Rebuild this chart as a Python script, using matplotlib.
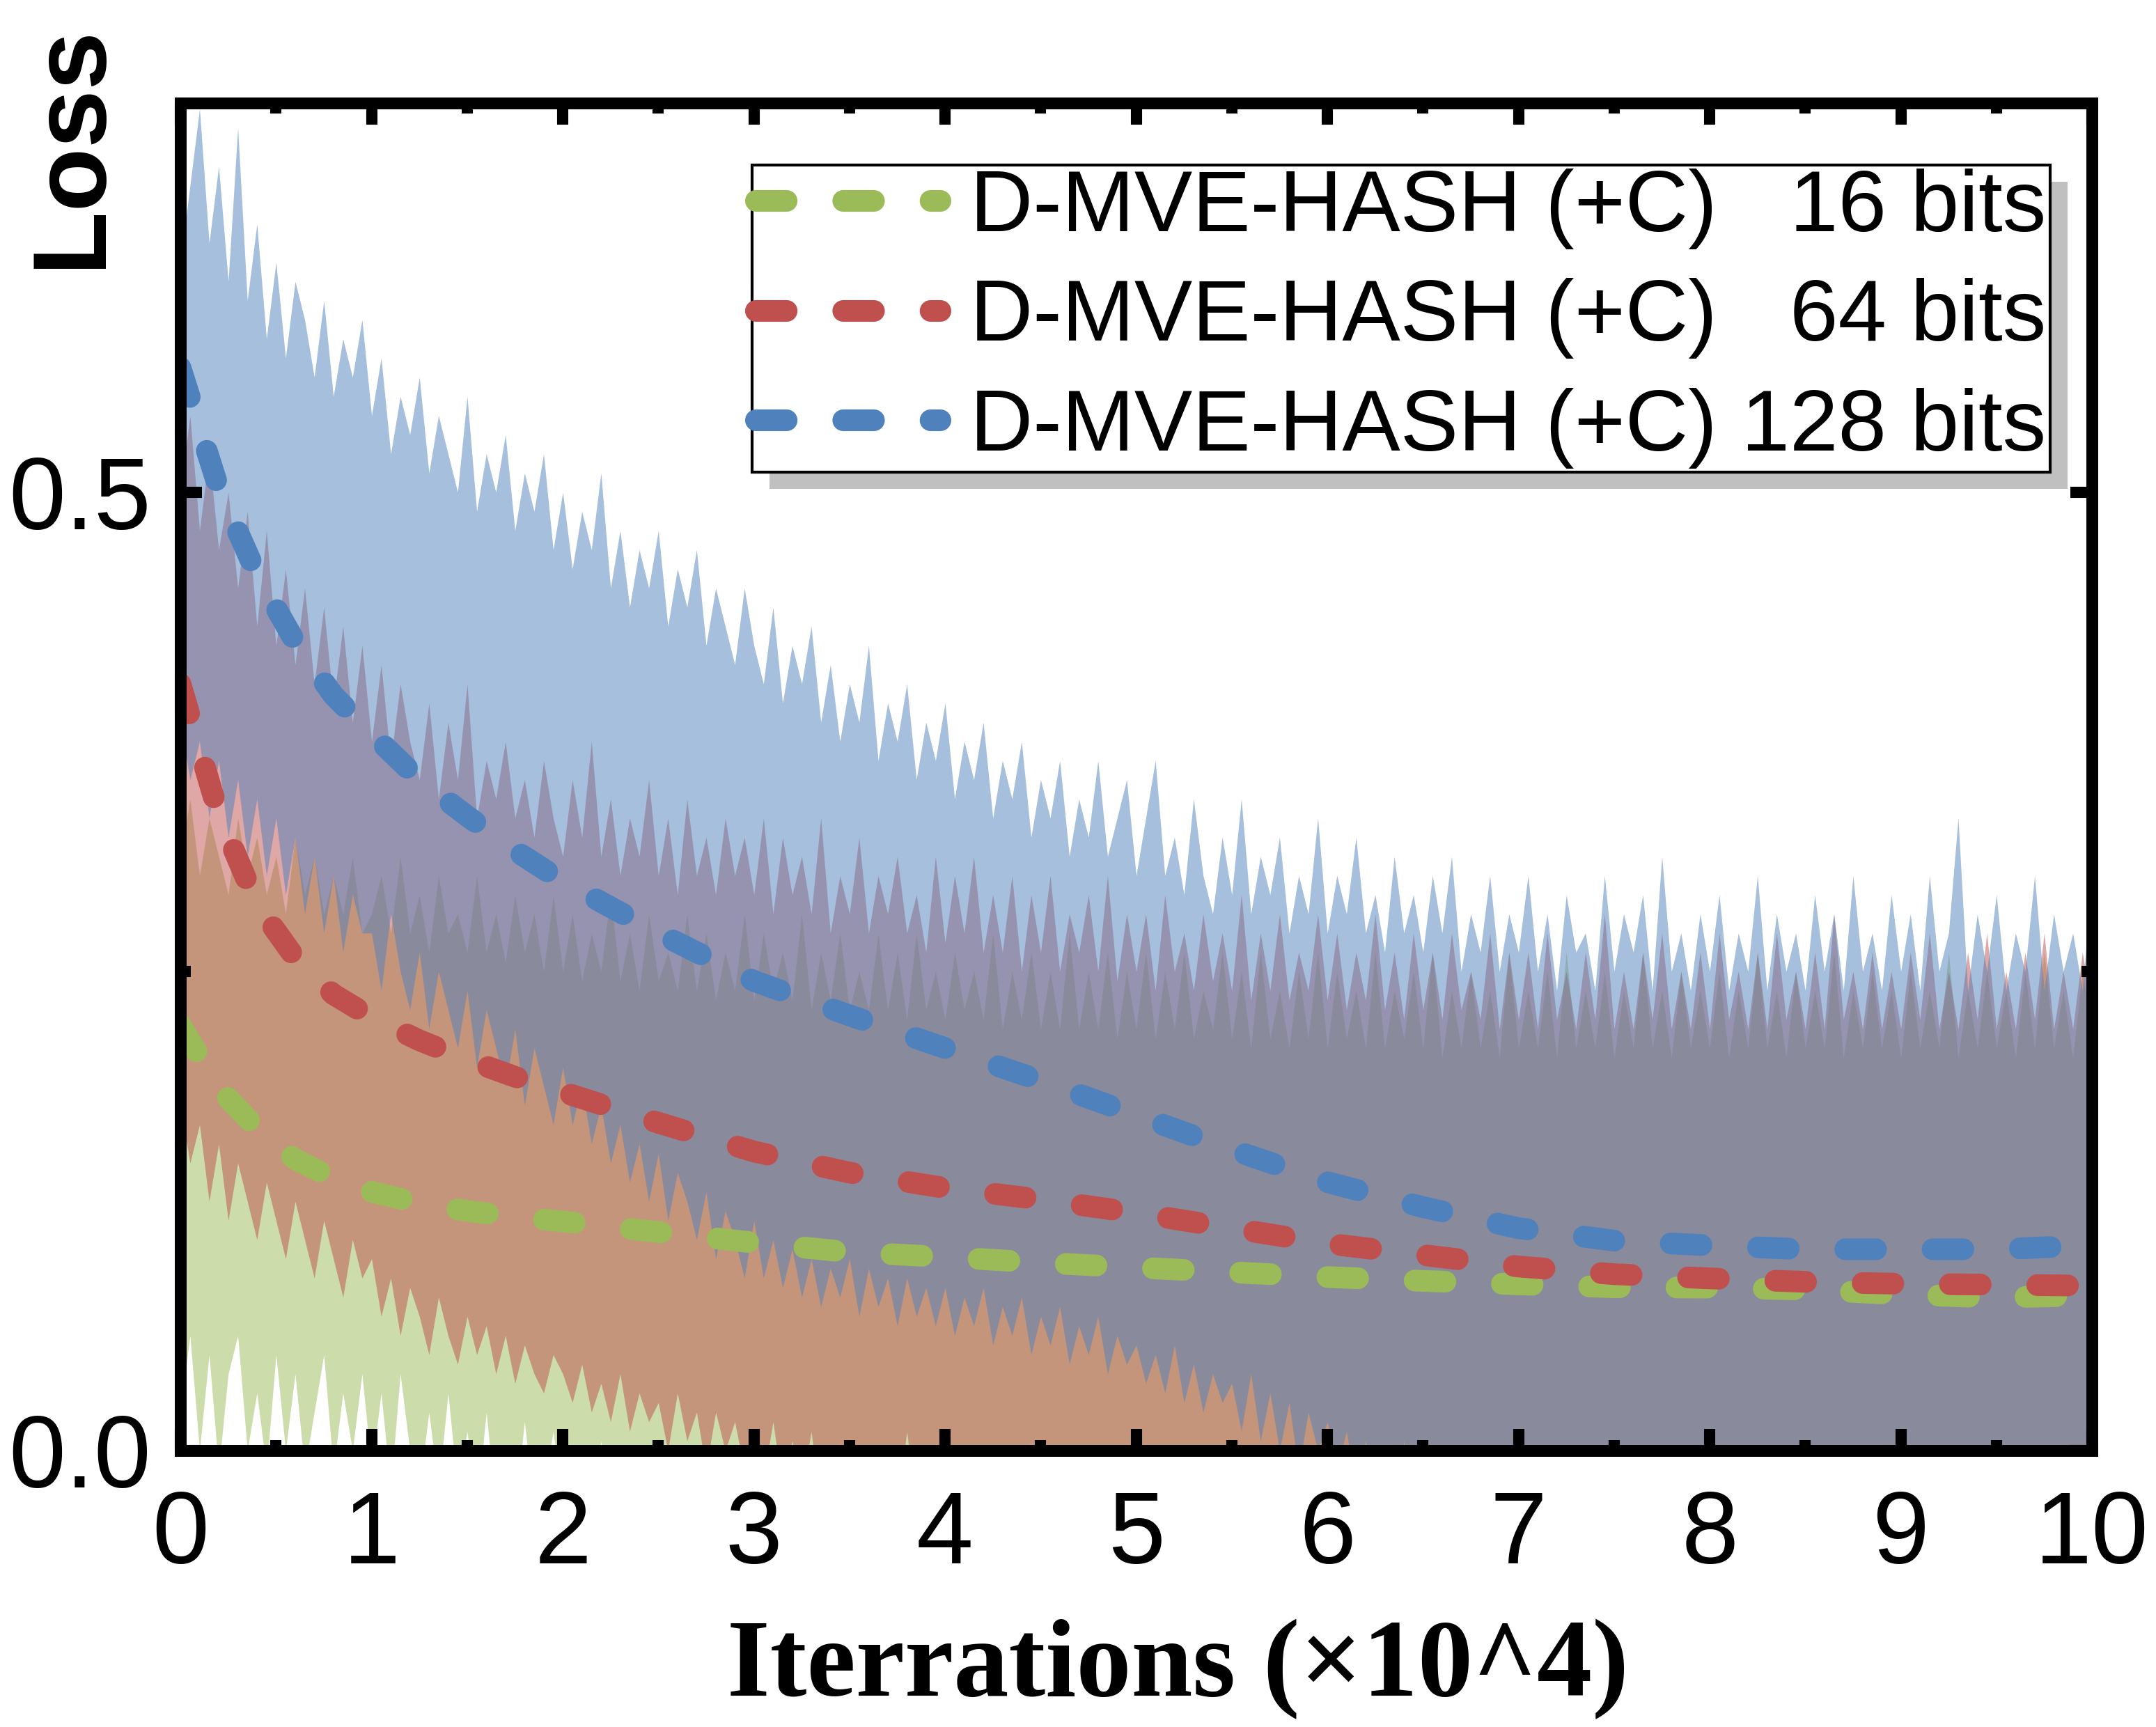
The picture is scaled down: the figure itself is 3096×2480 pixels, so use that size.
import numpy as np
import matplotlib
matplotlib.use('Agg')
import matplotlib.pyplot as plt
from matplotlib.patches import Rectangle
from matplotlib.transforms import IdentityTransform
from matplotlib.ticker import MultipleLocator, FormatStrFormatter

plt.rcParams['font.family'] = ['Liberation Sans', 'DejaVu Sans']

# smoothed loss curves (dashed)
mean_x = [0, 0.2, 0.4, 0.6, 0.8, 1.0, 1.25, 1.5, 1.75, 2.0, 2.5, 3.0, 3.5, 4.0,
          4.5, 5.0, 5.5, 6.0, 6.5, 7.0, 7.5, 8.0, 8.5, 9.0, 9.5, 10.0]
green_mean = [0.222, 0.189, 0.168, 0.152, 0.142, 0.135, 0.129, 0.125, 0.122, 0.1195,
              0.114, 0.1085, 0.1035, 0.101, 0.098, 0.0955, 0.093, 0.0905, 0.0885,
              0.0867, 0.0852, 0.085, 0.084, 0.0815, 0.0798, 0.081]
red_mean = [0.400, 0.332, 0.285, 0.257, 0.238, 0.226, 0.214, 0.204, 0.195, 0.187,
            0.171, 0.156, 0.145, 0.137, 0.131, 0.124, 0.116, 0.108, 0.102, 0.096,
            0.092, 0.0898, 0.088, 0.087, 0.0865, 0.086]
blue_mean = [0.565, 0.502, 0.457, 0.422, 0.394, 0.374, 0.350, 0.331, 0.313, 0.297,
             0.270, 0.245, 0.227, 0.210, 0.193, 0.175, 0.157, 0.140, 0.127, 0.116,
             0.1095, 0.107, 0.105, 0.105, 0.105, 0.107]

# raw loss spread, sampled every 0.05 (x10^4 iterations), one row per unit
band_x = np.round(np.arange(0, 10.001, 0.05), 2)
green_hi = [0.31, 0.34, 0.30, 0.33, 0.31, 0.29, 0.33, 0.30, 0.32, 0.29, 0.31, 0.28, 0.32, 0.29, 0.31, 0.28, 0.30, 0.28, 0.31, 0.27,
            0.28, 0.30, 0.27, 0.31, 0.27, 0.29, 0.26, 0.30, 0.27, 0.28, 0.26, 0.30, 0.26, 0.28, 0.255, 0.29, 0.26, 0.28, 0.25, 0.29,
            0.25, 0.28, 0.245, 0.27, 0.25, 0.29, 0.245, 0.27, 0.24, 0.28, 0.245, 0.26, 0.24, 0.28, 0.24, 0.27, 0.235, 0.26, 0.24, 0.28,
            0.235, 0.27, 0.24, 0.26, 0.235, 0.28, 0.23, 0.26, 0.235, 0.27, 0.23, 0.25, 0.23, 0.27, 0.23, 0.26, 0.225, 0.27, 0.23, 0.25,
            0.225, 0.26, 0.23, 0.25, 0.225, 0.27, 0.22, 0.25, 0.225, 0.26, 0.22, 0.25, 0.22, 0.27, 0.22, 0.25, 0.22, 0.26, 0.215, 0.25,
            0.22, 0.26, 0.215, 0.25, 0.22, 0.26, 0.215, 0.24, 0.22, 0.26, 0.215, 0.25, 0.21, 0.26, 0.215, 0.24, 0.21, 0.25, 0.215, 0.26,
            0.21, 0.25, 0.215, 0.24, 0.21, 0.26, 0.21, 0.24, 0.215, 0.25, 0.21, 0.26, 0.205, 0.24, 0.21, 0.25, 0.21, 0.24, 0.205, 0.26,
            0.21, 0.24, 0.21, 0.25, 0.205, 0.26, 0.21, 0.24, 0.21, 0.25, 0.205, 0.24, 0.21, 0.26, 0.21, 0.24, 0.205, 0.25, 0.21, 0.24,
            0.21, 0.25, 0.205, 0.24, 0.21, 0.26, 0.21, 0.24, 0.205, 0.25, 0.21, 0.24, 0.21, 0.26, 0.205, 0.24, 0.21, 0.25, 0.21, 0.24,
            0.205, 0.25, 0.21, 0.24, 0.21, 0.26, 0.205, 0.24, 0.21, 0.25, 0.21, 0.24, 0.205, 0.25, 0.21, 0.26, 0.21, 0.24, 0.205, 0.25,
            0.22]
green_lo = [0.02, 0.06, 0.00, 0.05, -0.01, 0.04, 0.06, 0.00, 0.03, -0.01, 0.05, 0.00, 0.04, -0.01, 0.02, 0.05, -0.01, 0.03, 0.00, 0.04,
            -0.01, 0.03, -0.02, 0.04, 0.00, -0.02, 0.02, -0.02, 0.03, -0.02, 0.01, -0.03, 0.02, -0.03, 0.00, -0.03, 0.015, -0.03, -0.02, 0.01,
            -0.03, 0.00, -0.03, -0.04, 0.005, -0.04, -0.03, -0.05, -0.04, -0.05, -0.04, -0.05, -0.05, -0.04, -0.05, -0.05, -0.04, -0.05, -0.05, -0.04,
            -0.05, -0.04, -0.05, -0.05, -0.04, -0.05, -0.05, -0.04, -0.05, -0.05, -0.04, -0.05, -0.05, -0.04, -0.05, -0.05, -0.04, -0.05, -0.05, -0.04,
            -0.05, -0.04, -0.05, -0.05, -0.04, -0.05, -0.05, -0.04, -0.05, -0.05, -0.04, -0.05, -0.05, -0.04, -0.05, -0.05, -0.04, -0.05, -0.05, -0.04,
            -0.05, -0.04, -0.05, -0.05, -0.04, -0.05, -0.05, -0.04, -0.05, -0.05, -0.04, -0.05, -0.05, -0.04, -0.05, -0.05, -0.04, -0.05, -0.05, -0.04,
            -0.05, -0.04, -0.05, -0.05, -0.04, -0.05, -0.05, -0.04, -0.05, -0.05, -0.04, -0.05, -0.05, -0.04, -0.05, -0.05, -0.04, -0.05, -0.05, -0.04,
            -0.05, -0.04, -0.05, -0.05, -0.04, -0.05, -0.05, -0.04, -0.05, -0.05, -0.04, -0.05, -0.05, -0.04, -0.05, -0.05, -0.04, -0.05, -0.05, -0.04,
            -0.05, -0.04, -0.05, -0.05, -0.04, -0.05, -0.05, -0.04, -0.05, -0.05, -0.04, -0.05, -0.05, -0.04, -0.05, -0.05, -0.04, -0.05, -0.05, -0.04,
            -0.05, -0.04, -0.05, -0.05, -0.04, -0.05, -0.05, -0.04, -0.05, -0.05, -0.04, -0.05, -0.05, -0.04, -0.05, -0.05, -0.04, -0.05, -0.05, -0.04,
            -0.05]
red_hi = [0.50, 0.54, 0.48, 0.52, 0.47, 0.50, 0.45, 0.49, 0.43, 0.48, 0.42, 0.46, 0.41, 0.45, 0.40, 0.44, 0.39, 0.43, 0.38, 0.42,
          0.37, 0.41, 0.36, 0.40, 0.37, 0.35, 0.39, 0.34, 0.38, 0.35, 0.40, 0.33, 0.36, 0.34, 0.37, 0.33, 0.35, 0.32, 0.36, 0.33,
          0.31, 0.35, 0.32, 0.37, 0.31, 0.34, 0.30, 0.33, 0.31, 0.35, 0.30, 0.33, 0.29, 0.34, 0.30, 0.32, 0.29, 0.33, 0.30, 0.32,
          0.29, 0.33, 0.28, 0.32, 0.29, 0.31, 0.28, 0.33, 0.27, 0.30, 0.28, 0.32, 0.27, 0.30, 0.28, 0.31, 0.27, 0.29, 0.26, 0.31,
          0.265, 0.30, 0.27, 0.31, 0.26, 0.29, 0.26, 0.30, 0.25, 0.29, 0.26, 0.30, 0.25, 0.28, 0.26, 0.29, 0.25, 0.30, 0.245, 0.28,
          0.25, 0.28, 0.24, 0.29, 0.25, 0.27, 0.24, 0.28, 0.245, 0.27, 0.24, 0.29, 0.235, 0.27, 0.24, 0.28, 0.235, 0.26, 0.24, 0.28,
          0.235, 0.27, 0.23, 0.26, 0.235, 0.28, 0.23, 0.26, 0.225, 0.27, 0.23, 0.26, 0.225, 0.27, 0.23, 0.25, 0.225, 0.27, 0.22, 0.26,
          0.225, 0.26, 0.22, 0.27, 0.225, 0.25, 0.22, 0.26, 0.225, 0.28, 0.22, 0.25, 0.22, 0.26, 0.225, 0.27, 0.22, 0.25, 0.22, 0.26,
          0.22, 0.27, 0.225, 0.25, 0.22, 0.26, 0.22, 0.27, 0.225, 0.25, 0.22, 0.26, 0.22, 0.28, 0.225, 0.25, 0.22, 0.26, 0.22, 0.25,
          0.22, 0.26, 0.225, 0.27, 0.22, 0.25, 0.22, 0.26, 0.225, 0.27, 0.22, 0.25, 0.22, 0.26, 0.225, 0.27, 0.22, 0.25, 0.22, 0.26,
          0.23]
red_lo = [0.18, 0.15, 0.17, 0.13, 0.16, 0.12, 0.15, 0.13, 0.11, 0.14, 0.12, 0.10, 0.13, 0.11, 0.09, 0.12, 0.10, 0.08, 0.11, 0.09,
          0.10, 0.07, 0.09, 0.06, 0.085, 0.07, 0.05, 0.08, 0.06, 0.045, 0.07, 0.05, 0.065, 0.04, 0.06, 0.035, 0.055, 0.04, 0.03, 0.05,
          0.04, 0.025, 0.045, 0.02, 0.035, 0.015, 0.04, 0.01, 0.03, 0.015, 0.025, 0.00, 0.03, 0.005, 0.02, -0.01, 0.02, 0.00, 0.015, -0.01,
          0.01, -0.015, 0.015, -0.02, 0.005, -0.02, 0.01, -0.03, 0.00, -0.02, 0.005, -0.03, -0.01, -0.03, 0.00, -0.03, 0.01, -0.03, -0.01, -0.04,
          0.005, -0.03, -0.02, -0.04, -0.01, -0.04, -0.03, -0.05, -0.04, -0.05, -0.04, -0.05, -0.05, -0.04, -0.05, -0.05, -0.04, -0.05, -0.05, -0.04,
          -0.05, -0.04, -0.05, -0.05, -0.04, -0.05, -0.05, -0.04, -0.05, -0.05, -0.04, -0.05, -0.05, -0.04, -0.05, -0.05, -0.04, -0.05, -0.05, -0.04,
          -0.05, -0.04, -0.05, -0.05, -0.04, -0.05, -0.05, -0.04, -0.05, -0.05, -0.04, -0.05, -0.05, -0.04, -0.05, -0.05, -0.04, -0.05, -0.05, -0.04,
          -0.05, -0.04, -0.05, -0.05, -0.04, -0.05, -0.05, -0.04, -0.05, -0.05, -0.04, -0.05, -0.05, -0.04, -0.05, -0.05, -0.04, -0.05, -0.05, -0.04,
          -0.05, -0.04, -0.05, -0.05, -0.04, -0.05, -0.05, -0.04, -0.05, -0.05, -0.04, -0.05, -0.05, -0.04, -0.05, -0.05, -0.04, -0.05, -0.05, -0.04,
          -0.05, -0.04, -0.05, -0.05, -0.04, -0.05, -0.05, -0.04, -0.05, -0.05, -0.04, -0.05, -0.05, -0.04, -0.05, -0.05, -0.04, -0.05, -0.05, -0.04,
          -0.05]
blue_hi = [0.62, 0.66, 0.70, 0.63, 0.67, 0.61, 0.69, 0.60, 0.64, 0.58, 0.62, 0.57, 0.61, 0.59, 0.56, 0.60, 0.55, 0.58, 0.56, 0.59,
           0.54, 0.57, 0.52, 0.55, 0.53, 0.56, 0.51, 0.54, 0.52, 0.50, 0.55, 0.49, 0.52, 0.50, 0.53, 0.48, 0.51, 0.49, 0.52, 0.47,
           0.50, 0.46, 0.49, 0.47, 0.51, 0.45, 0.48, 0.44, 0.47, 0.45, 0.48, 0.43, 0.46, 0.44, 0.47, 0.42, 0.45, 0.43, 0.41, 0.45,
           0.42, 0.40, 0.44, 0.39, 0.42, 0.40, 0.43, 0.38, 0.41, 0.37, 0.40, 0.38, 0.42, 0.36, 0.39, 0.37, 0.40, 0.35, 0.38, 0.36,
           0.39, 0.34, 0.37, 0.35, 0.38, 0.33, 0.36, 0.34, 0.37, 0.32, 0.35, 0.33, 0.36, 0.31, 0.34, 0.32, 0.36, 0.31, 0.33, 0.35,
           0.30, 0.33, 0.36, 0.30, 0.32, 0.29, 0.34, 0.30, 0.28, 0.32, 0.29, 0.34, 0.28, 0.31, 0.29, 0.32, 0.27, 0.30, 0.28, 0.33,
           0.27, 0.30, 0.28, 0.32, 0.27, 0.29, 0.26, 0.31, 0.27, 0.29, 0.26, 0.30, 0.27, 0.31, 0.25, 0.28, 0.26, 0.30, 0.25, 0.28,
           0.26, 0.30, 0.25, 0.28, 0.24, 0.29, 0.26, 0.27, 0.24, 0.30, 0.25, 0.28, 0.26, 0.29, 0.24, 0.31, 0.25, 0.27, 0.24, 0.28,
           0.25, 0.29, 0.24, 0.27, 0.25, 0.30, 0.24, 0.28, 0.25, 0.27, 0.24, 0.29, 0.25, 0.28, 0.24, 0.30, 0.25, 0.27, 0.24, 0.29,
           0.25, 0.28, 0.24, 0.30, 0.25, 0.27, 0.33, 0.24, 0.28, 0.25, 0.29, 0.24, 0.27, 0.25, 0.30, 0.24, 0.28, 0.25, 0.27, 0.24,
           0.30]
blue_lo = [0.38, 0.35, 0.37, 0.33, 0.36, 0.32, 0.35, 0.31, 0.34, 0.30, 0.33, 0.29, 0.32, 0.28, 0.31, 0.27, 0.30, 0.26, 0.29, 0.27,
           0.27, 0.24, 0.28, 0.25, 0.23, 0.26, 0.22, 0.25, 0.23, 0.21, 0.24, 0.20, 0.23, 0.21, 0.19, 0.22, 0.18, 0.21, 0.19, 0.17,
           0.20, 0.17, 0.19, 0.16, 0.18, 0.15, 0.17, 0.14, 0.16, 0.13, 0.155, 0.12, 0.145, 0.13, 0.11, 0.135, 0.10, 0.125, 0.11, 0.09,
           0.12, 0.09, 0.11, 0.085, 0.105, 0.08, 0.10, 0.075, 0.095, 0.08, 0.10, 0.07, 0.095, 0.075, 0.09, 0.065, 0.09, 0.07, 0.085, 0.065,
           0.085, 0.06, 0.08, 0.065, 0.085, 0.055, 0.075, 0.06, 0.08, 0.05, 0.07, 0.055, 0.075, 0.045, 0.065, 0.05, 0.07, 0.04, 0.06, 0.045,
           0.055, 0.035, 0.05, 0.03, 0.055, 0.025, 0.045, 0.02, 0.04, 0.025, 0.035, 0.01, 0.04, 0.005, 0.03, 0.00, 0.025, -0.01, 0.02, 0.00,
           0.015, -0.01, 0.01, -0.02, 0.005, -0.02, 0.00, -0.03, 0.005, -0.03, -0.01, -0.03, -0.02, -0.03, -0.02, -0.03, 0.00, -0.03, -0.02, -0.03,
           -0.02, 0.00, -0.03, -0.02, -0.03, -0.02, -0.03, -0.02, -0.03, -0.02, -0.03, -0.005, -0.03, -0.02, -0.03, -0.02, -0.03, -0.02, -0.03, -0.02,
           -0.03, -0.02, -0.03, -0.02, -0.03, -0.02, -0.03, -0.02, -0.03, -0.02, -0.03, -0.02, -0.03, -0.02, -0.03, -0.02, -0.03, -0.02, -0.03, -0.02,
           -0.03, -0.02, -0.03, -0.02, -0.03, -0.02, -0.03, -0.02, -0.03, -0.02, -0.03, -0.02, -0.03, -0.02, -0.03, -0.02, -0.03, -0.02, -0.03, -0.02,
           -0.02]

labels = ['D-MVE-HASH (+C)   16 bits', 'D-MVE-HASH (+C)   64 bits', 'D-MVE-HASH (+C) 128 bits']
colors = ['#9bbb59', '#c0504d', '#4f81bd']

fig = plt.figure(figsize=(15.48, 12.4), dpi=200)
ax = fig.add_axes([0.0837, 0.1601, 0.8866, 0.7802])

bands = [(green_lo, green_hi), (red_lo, red_hi), (blue_lo, blue_hi)]
for (lo, hi), c in zip(bands, colors):
    ax.fill_between(band_x, lo, hi, color=c, alpha=0.5, linewidth=0, zorder=1)

means = [green_mean, red_mean, blue_mean]
for m, c, lab in zip(means, colors, labels):
    ax.plot(mean_x, m, color=c, lw=11.2, linestyle=(0, (1.42, 2.61)),
            dash_capstyle='round', label=lab, zorder=3)

ax.set_xlim(0, 10)
ax.set_ylim(0, 0.703)
ax.xaxis.set_major_locator(MultipleLocator(1))
ax.xaxis.set_minor_locator(MultipleLocator(0.5))
ax.yaxis.set_major_locator(MultipleLocator(0.5))
ax.yaxis.set_minor_locator(MultipleLocator(0.25))
ax.xaxis.set_major_formatter(FormatStrFormatter('%d'))
ax.yaxis.set_major_formatter(FormatStrFormatter('%.1f'))
ax.tick_params(which='both', direction='in', top=True, right=True, width=5.8, color='black')
ax.tick_params(which='major', length=11, labelsize=53)
ax.tick_params(which='minor', length=5.5)
ax.tick_params(axis='x', pad=20)
ax.tick_params(axis='y', pad=15)
for sp in ax.spines.values():
    sp.set_linewidth(6.1)
    sp.set_zorder(6)

leg = ax.legend(loc='upper right', bbox_to_anchor=(0.978, 0.954), borderaxespad=0,
                fontsize=45, fancybox=False, edgecolor='black', framealpha=1,
                borderpad=0.04, labelspacing=0.33, handlelength=2.12, handletextpad=0.35)
leg.get_frame().set_linewidth(1.5)
leg.set_zorder(5)

fig.text(104 / 3096, 1 - 210 / 2480, 'Loss', rotation=90, ha='center', va='center',
         fontsize=54, fontweight='bold')
fig.text(1691 / 3096, 1 - 2435 / 2480, 'Iterrations (×10^4)', ha='center', va='baseline',
         fontsize=57, fontweight='bold', family=['Liberation Serif', 'DejaVu Serif'])

# grey drop shadow behind the legend box
fig.canvas.draw()
bb = leg.get_window_extent()
shadow = Rectangle((bb.x0 + 25, bb.y0 - 24), bb.width, bb.height, transform=IdentityTransform(),
                   facecolor='#c0c0c0', edgecolor='none', zorder=4.5)
ax.add_artist(shadow)

fig.savefig('out.png', dpi=200)
